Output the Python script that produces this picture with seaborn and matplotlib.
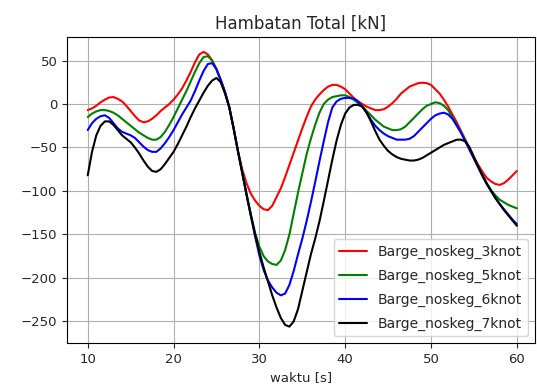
import numpy as np
import pandas as pd
import matplotlib
matplotlib.use("Agg")
import matplotlib.pyplot as plt
import seaborn as sns

# waktu [s], sampled every 0.5 s
waktu = np.arange(10, 60.5, 0.5)

# Hambatan Total [kN] (10 values = 5 s per row)
knot3 = [-7, -5, -2, 2, 5, 7.5, 8, 6, 3, -2,
         -8, -14, -19, -21, -20, -17, -13, -8, -4, 0,
         5, 11, 18, 27, 37, 48, 57, 60, 57, 50,
         40, 27, 13, -4, -28, -54, -75, -91, -103, -111,
         -117, -121, -122, -117, -107, -97, -84, -70, -56, -42,
         -28, -15, -3, 5, 11, 16, 20, 22, 22, 20,
         17, 12, 7, 3, 0, -3, -5, -7, -7, -6,
         -3, 1, 6, 12, 16, 20, 22, 24, 24.5, 24,
         22, 17, 12, 5, -3, -12, -21, -31, -41, -51,
         -61, -70, -78, -85, -89, -92, -93, -91, -87, -82,
         -77]
knot5 = [-15, -11, -8.5, -7, -7, -8, -10, -13, -17, -21,
         -25, -29, -33, -36, -39, -41, -41, -38, -32, -24,
         -15, -5, 5, 15, 26, 37, 47, 54, 55, 50,
         40, 27, 13, -4, -28, -54, -78, -103, -126, -148,
         -164, -175, -181, -184, -185, -180, -168, -150, -126, -102,
         -80, -58, -40, -24, -10, 0, 5, 8, 9, 10,
         10, 8, 5, 1, -3, -8, -13, -18, -22, -26,
         -28, -30, -30, -29, -26, -21, -16, -11, -6, -2,
         0, 2, 1, -2, -7, -15, -24, -33, -42, -52,
         -62, -72, -82, -91, -99, -105, -110, -113, -116, -118,
         -120]
knot6 = [-30, -22, -17, -14, -13, -16, -22, -28, -32, -34,
         -36, -39, -44, -49, -53, -55, -55, -51, -45, -38,
         -30, -21, -12, -4, 4, 15, 27, 38, 46, 47,
         40, 28, 14, -4, -28, -54, -79, -104, -128, -152,
         -174, -191, -203, -211, -217, -220, -218, -208, -192, -173,
         -155, -135, -113, -90, -66, -43, -21, -4, 3, 6,
         7, 7, 6, 3, -3, -10, -18, -25, -30, -34,
         -37, -39, -41, -41, -41, -40, -37, -32, -27, -22,
         -17, -13, -11, -10, -12, -17, -25, -33, -43, -53,
         -63, -73, -83, -92, -100, -108, -115, -121, -127, -133,
         -138]
knot7 = [-82, -55, -36, -25, -20, -20, -24, -30, -36, -40,
         -44, -50, -57, -65, -72, -77, -78, -75, -69, -62,
         -55, -46, -36, -26, -15, -5, 4, 13, 21, 27,
         30, 25, 12, -4, -28, -54, -79, -104, -128, -150,
         -170, -188, -204, -220, -234, -246, -254, -256, -250, -236,
         -215, -194, -173, -155, -135, -112, -88, -64, -42, -24,
         -11, -4, -1, -1, -3, -10, -20, -31, -41, -48,
         -54, -58, -61, -63, -64, -65, -65, -64, -62, -59,
         -56, -53, -50, -47, -45, -43, -41, -41, -43, -50,
         -61, -72, -82, -92, -100, -108, -115, -122, -128, -134,
         -140]

labels = ["Barge_noskeg_3knot", "Barge_noskeg_5knot",
          "Barge_noskeg_6knot", "Barge_noskeg_7knot"]
colors = ["r", "g", "b", "k"]

df = pd.concat([
    pd.DataFrame({"waktu": waktu, "hambatan": vals, "kasus": lab})
    for vals, lab in zip([knot3, knot5, knot6, knot7], labels)
])

sns.set_style("ticks", {"axes.grid": True, "grid.color": "#b0b0b0",
                        "axes.edgecolor": "black"})
plt.rcParams["font.family"] = ["DejaVu Sans"]

fig = plt.figure(figsize=(5.37, 3.86), dpi=100)
ax = fig.add_axes([0.125, 0.111, 0.871, 0.793])

sns.lineplot(data=df, x="waktu", y="hambatan", hue="kasus",
             palette=dict(zip(labels, colors)), errorbar=None,
             linewidth=1.5, ax=ax)

ax.set_xlim(7.6, 62.1)
ax.set_ylim(-275, 77)
ax.set_xticks([10, 20, 30, 40, 50, 60])
ax.set_yticks([50, 0, -50, -100, -150, -200, -250])
ax.grid(True, linewidth=0.8)
ax.tick_params(labelsize=9.5, length=3.5, width=0.8)
ax.set_title("Hambatan Total [kN]", fontsize=12)
ax.set_xlabel("waktu [s]", fontsize=9.5)
ax.set_ylabel("")
ax.legend(loc="lower right", fontsize=10, labelspacing=0.7, title=None)

fig.savefig("out.png", dpi=100)
